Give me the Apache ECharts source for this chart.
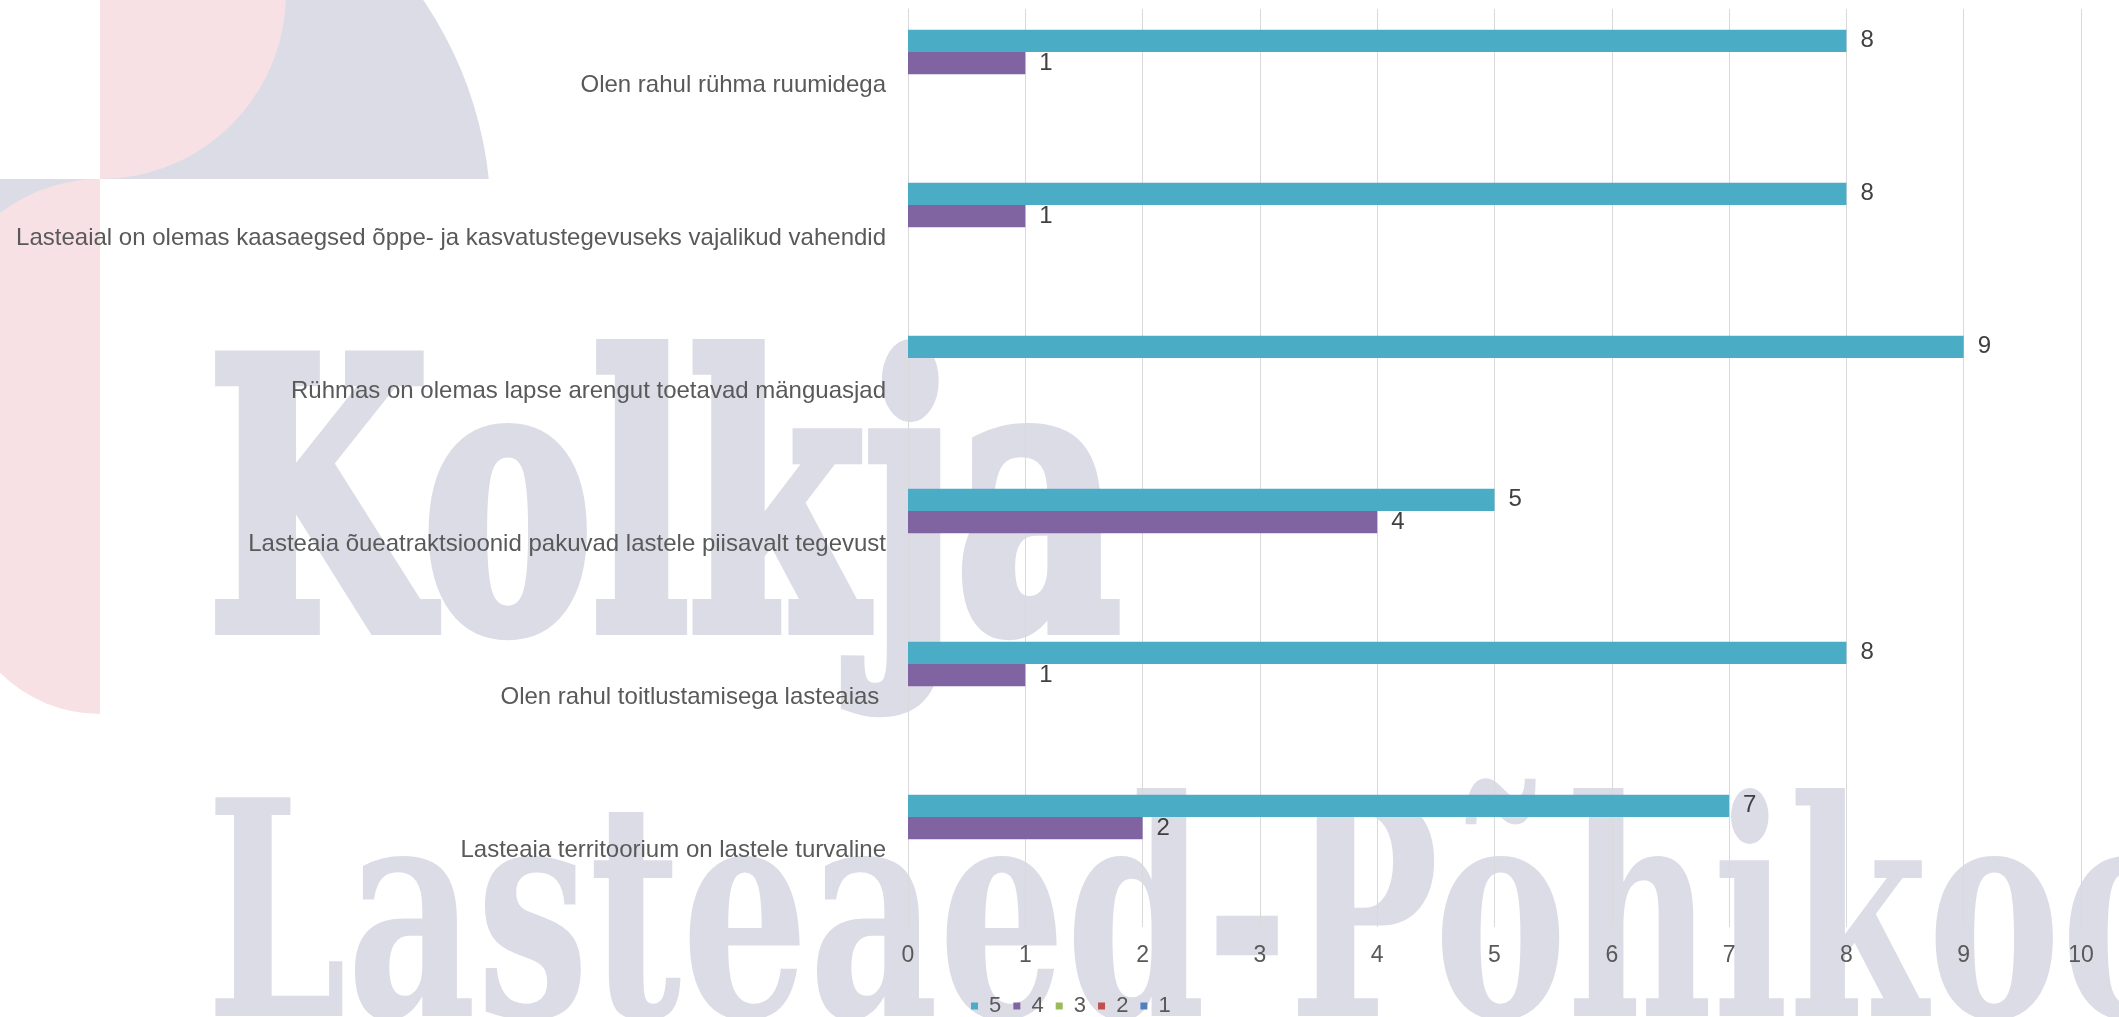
<!DOCTYPE html>
<html>
<head>
<meta charset="utf-8">
<title>Rahulolu lasteaia keskkonnaga</title>
<script src="https://cdn.jsdelivr.net/npm/echarts@6/dist/echarts.min.js"></script>
<style>
    html, body { margin: 0; padding: 0; background: #ffffff; }
    #chart { width: 2119px; height: 1017px; }
</style>
</head>
<body>
<div id="chart"></div>
<script>
// Questions, listed top to bottom as they appear
const categories = [
    'Olen rahul rühma ruumidega',
    'Lasteaial on olemas kaasaegsed õppe- ja kasvatustegevuseks vajalikud vahendid',
    'Rühmas on olemas lapse arengut toetavad mänguasjad',
    'Lasteaia õueatraktsioonid pakuvad lastele piisavalt tegevust',
    'Olen rahul toitlustamisega lasteaias ',
    'Lasteaia territoorium on lastele turvaline'
];

// Answer scores (5 = best), counts per question; empty cells are null
const seriesNames = ['5', '4', '3', '2', '1'];
const score5 = [8, 8, 9, 5, 8, 7];
const score4 = [1, 1, null, 4, 1, 2];
const score3 = [null, null, null, null, null, null];
const score2 = [null, null, null, null, null, null];
const score1 = [null, null, null, null, null, null];

const xMin = 0;
const xMax = 10;
const xStep = 1;

const colors = ['#4bacc6', '#8064a2', '#9bbb59', '#c0504d', '#4f81bd'];
const textFont = 'Liberation Sans, Arial, sans-serif';

// School logo watermark behind the chart
const lavender = '#dcdce7';
const pink = '#f8e1e5';
const watermarkTop = 'Kolkja';
const watermarkBottom = 'Lasteaed-Põhikool';

const chart = echarts.init(document.getElementById('chart'));

const seriesData = [score5, score4, score3, score2, score1];

const option = {
    backgroundColor: '#ffffff',
    animation: false,
    color: colors,
    graphic: {
        elements: [
            // lavender quarter disc, top left (bottom part masked off in white)
            {
                type: 'sector', z: -100, silent: true,
                shape: { cx: 100, cy: 220, r: 391, startAngle: -Math.PI / 2, endAngle: 0 },
                style: { fill: lavender }
            },
            {
                type: 'rect', z: -100, silent: true,
                shape: { x: 100, y: 179, width: 400, height: 43 },
                style: { fill: '#ffffff' }
            },
            {
                type: 'sector', z: -99, silent: true,
                shape: { cx: 100, cy: -7, r: 186, startAngle: 0, endAngle: Math.PI / 2 },
                style: { fill: pink }
            },
            // pink strip on the left edge
            {
                type: 'rect', z: -100, silent: true,
                shape: { x: 0, y: 179, width: 100, height: 80 },
                style: { fill: lavender }
            },
            {
                type: 'sector', z: -99, silent: true,
                shape: { cx: 100, cy: 343, r: 164, startAngle: Math.PI, endAngle: Math.PI * 1.5 },
                style: { fill: pink }
            },
            {
                type: 'rect', z: -99, silent: true,
                shape: { x: 0, y: 342, width: 100, height: 232 },
                style: { fill: pink }
            },
            {
                type: 'sector', z: -99, silent: true,
                shape: { cx: 100, cy: 572, r: 142, startAngle: Math.PI / 2, endAngle: Math.PI },
                style: { fill: pink }
            },
            {
                type: 'text', z: -98, silent: true,
                x: 208, y: 717, scaleX: 0.684,
                style: {
                    text: watermarkTop,
                    font: 'bold 371px "DejaVu Serif"',
                    fill: lavender,
                    stroke: lavender,
                    lineWidth: 14,
                    align: 'left',
                    verticalAlign: 'bottom'
                }
            },
            {
                type: 'text', z: -98, silent: true,
                x: 206, y: 1088, scaleX: 0.667,
                style: {
                    text: watermarkBottom,
                    font: 'bold 300px "DejaVu Serif"',
                    fill: lavender,
                    align: 'left',
                    verticalAlign: 'bottom'
                }
            }
        ]
    },
    legend: {
        data: seriesNames,
        left: 966,
        top: 990,
        itemWidth: 7,
        itemHeight: 7,
        itemGap: 12,
        icon: 'rect',
        formatter: ' {name}',
        textStyle: { color: '#595959', fontSize: 22, fontFamily: textFont }
    },
    grid: {
        left: 908,
        right: 38,
        top: 9,
        bottom: 90,
        containLabel: false
    },
    xAxis: {
        type: 'value',
        min: xMin,
        max: xMax,
        interval: xStep,
        axisLine: { show: false },
        axisTick: { show: false },
        splitLine: { show: true, lineStyle: { color: '#d9d9d9', width: 1 } },
        axisLabel: { color: '#595959', fontSize: 23, fontFamily: textFont, margin: 17 }
    },
    yAxis: {
        type: 'category',
        data: categories,
        inverse: true,
        axisLine: { show: true, lineStyle: { color: '#d9d9d9' } },
        axisTick: { show: false },
        axisLabel: { color: '#595959', fontSize: 24, fontFamily: textFont, margin: 22 }
    },
    series: seriesNames.map((name, i) => ({
        name: name,
        type: 'bar',
        data: seriesData[i],
        barGap: '0%',
        barCategoryGap: '27%',
        itemStyle: { color: colors[i] },
        label: {
            show: true,
            position: 'right',
            distance: 14,
            color: '#404040',
            fontSize: 24,
            fontFamily: textFont
        }
    }))
};

chart.setOption(option);
</script>
</body>
</html>
